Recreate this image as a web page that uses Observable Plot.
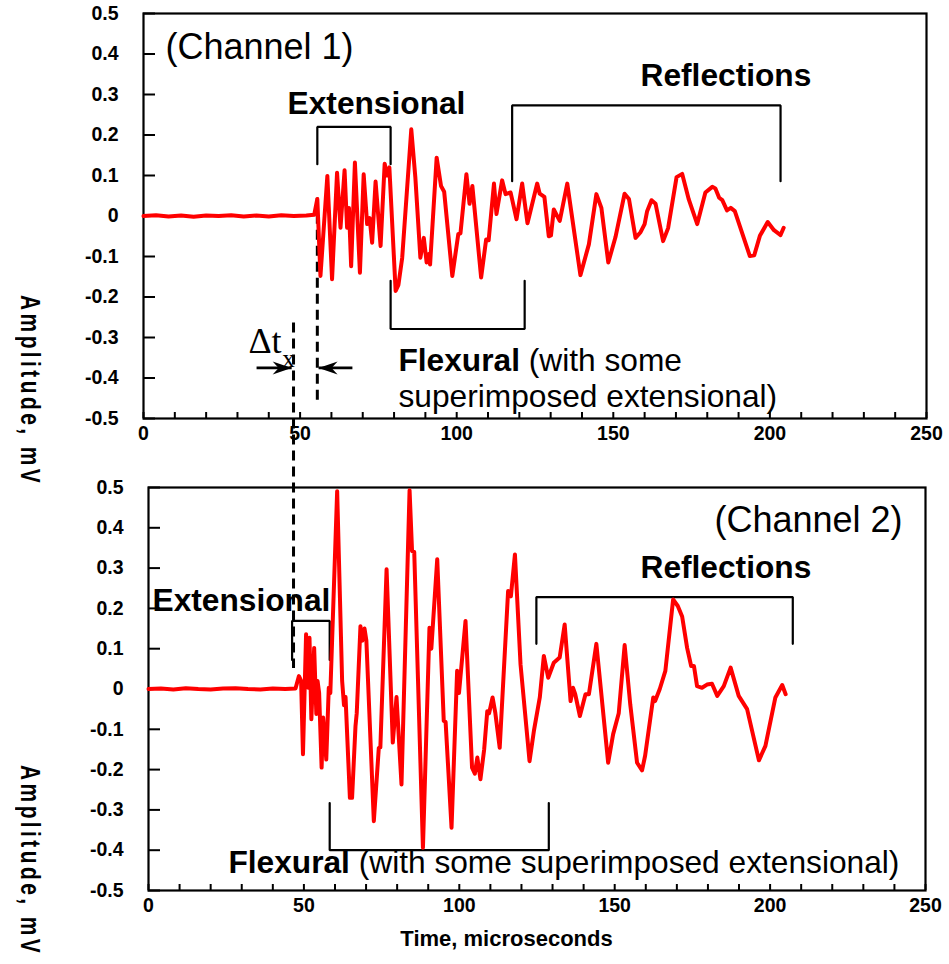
<!DOCTYPE html>
<html>
<head>
<meta charset="utf-8">
<script src="https://cdn.jsdelivr.net/npm/d3@7"></script>
<script src="https://cdn.jsdelivr.net/npm/@observablehq/plot@0.6"></script>
<style>
  html, body { margin: 0; padding: 0; background: #fff; }
  #chart { position: relative; width: 949px; height: 964px; overflow: hidden;
           font-family: Arial, "Liberation Sans", sans-serif; }
  #chart svg { position: absolute; left: 0; overflow: visible; }
  .ytitle { position: absolute; writing-mode: vertical-rl; font-weight: bold; font-size: 21px;
            line-height: 21px; letter-spacing: 3.4px; white-space: nowrap; color: #000;
            transform: scaleX(1.35); transform-origin: 0 0; }
</style>
</head>
<body>
<div id="chart"></div>
<script>
// ---- axes -------------------------------------------------------------
const xTickValues = [0, 50, 100, 150, 200, 250];
const xTickLabels = ["0", "50", "100", "150", "200", "250"];
const xMinorTicks = [10, 20, 30, 40, 60, 70, 80, 90, 110, 120, 130, 140, 160, 170, 180, 190, 210, 220, 230, 240];
const yTickValues = [-0.5, -0.4, -0.3, -0.2, -0.1, 0, 0.1, 0.2, 0.3, 0.4, 0.5];
const yTickLabels = ["-0.5", "-0.4", "-0.3", "-0.2", "-0.1", "0", "0.1", "0.2", "0.3", "0.4", "0.5"];
const xTitle = "Time, microseconds";
const yTitle = "Amplitude, mV";

// ---- channel 1 trace (time in microseconds, amplitude in mV) ----------
const ch1Time = [0, 4, 8, 12, 16, 20, 24, 28, 32, 36, 40, 44, 48, 52, 54.5,
  55.5, 56.5, 58.7, 60.2, 61.8, 62.9, 64.2, 65, 65.6, 66.3, 67.5, 69.1, 70.3, 71.4, 72.2, 73,
  74.1, 75.7, 77, 77.8, 78.5, 80.5, 81.4, 82.6, 85.5, 86.8, 88.4, 89.5, 90.4, 91.1, 91.5,
  93.6, 95, 96, 98.6, 100.5, 101.2, 103.1, 104.1, 105, 107.8, 109.4, 110.2, 111.9, 112.7,
  114.5, 115.6, 117.2, 117.7, 119.1, 120.9, 122.6, 125.7, 126.5, 128, 129.4, 130.1, 131,
  132.9, 135.3, 139.5, 142.2, 144.6, 146.2, 148.4, 150.7, 153.6, 155, 157.1, 158.7, 160,
  160.8, 162.2, 163.5, 165.9, 167.5, 170.2, 172, 174.1, 176.8, 179.4, 181.6, 182.6, 183.8,
  184.8, 186.3, 187.5, 188.8, 193.6, 195, 196.8, 199.3, 201.3, 203.4, 204.4];
const ch1Amp = [0, 0.002, -0.001, 0.001, -0.002, 0.001, 0, 0.002, -0.001, 0.001, -0.001, 0.002, 0, 0.001, 0.003,
  0.042, -0.148, 0.099, -0.156, 0.107, -0.029, 0.113, -0.029, 0.02, -0.124, 0.132, -0.14, 0.103, -0.02, -0.005, -0.066,
  0.085, -0.074, 0.129, 0.1, 0.12, -0.185, -0.17, -0.103, 0.214, 0.095, -0.103, -0.054, -0.115, -0.094, -0.12,
  0.144, 0.074, 0.06, -0.148, -0.045, -0.043, 0.103, 0.03, 0.074, -0.152, -0.058, -0.06, 0.08, 0.005,
  0.088, 0.054, 0.058, 0.041, -0.008, 0.08, -0.018, 0.08, 0.055, 0.047, -0.05, -0.048, 0.016,
  -0.012, 0.08, -0.146, -0.07, 0.054, 0.02, -0.115, -0.052, 0.055, 0.042, -0.054, -0.04, -0.02,
  0.012, 0.039, 0.03, -0.062, -0.03, 0.096, 0.104, 0.041, -0.02, 0.058, 0.072, 0.068, 0.045,
  0.039, 0.014, 0.02, 0.012, -0.099, -0.097, -0.049, -0.015, -0.035, -0.047, -0.029];

// ---- channel 2 trace ---------------------------------------------------
const ch2Time = [0, 4, 8, 12, 16, 20, 24, 28, 32, 36, 40, 44, 47.3,
  48.4, 49.1, 49.7, 50.7, 51.4, 51.8, 52.4, 53.3, 54, 54.4, 54.9, 55.7, 56.2, 57.2, 58, 58.5,
  60.7, 62.3, 62.9, 63.4, 64.8, 65.5, 66.6, 67, 68.2, 68.8, 69.5, 70.1, 72.5, 74.1, 74.6,
  76.6, 78.6, 79.8, 81.4, 84, 84.8, 85.5, 88.3, 90.4, 91, 92.9, 95, 95.6, 97.5, 99.3, 99.9,
  102, 104.1, 105, 105.8, 106.8, 108, 109, 109.6, 110.7, 111.6, 113, 115.7, 116.6, 117.9,
  119.7, 122.6, 124, 125.9, 127.2, 128.6, 130.4, 132.3, 133.9, 135.8, 136.6, 137.3, 138.8,
  140.6, 141.7, 144.1, 147.9, 149.5, 151.3, 153.2, 155, 157.2, 158.8, 159.8, 162.4, 163,
  164.5, 166.3, 168.8, 170.3, 171.7, 173.3, 174.6, 175.5, 176.5, 178.1, 179.7, 181.3, 183,
  185.1, 187.3, 189.9, 192.6, 196.4, 198.5, 201.7, 203.9, 205];
const ch2Amp = [0, 0.001, -0.001, 0.002, 0, -0.001, 0.001, 0.002, 0, -0.001, 0.001, 0, 0.001,
  0.032, 0.02, -0.162, 0.136, 0.003, 0.127, -0.075, 0.102, -0.062, 0.02, -0.01, -0.195, -0.071, -0.175, 0.003, -0.01,
  0.491, 0.02, -0.04, -0.02, -0.27, -0.27, -0.092, -0.06, 0.156, 0.12, 0.15, 0.12, -0.328, -0.146, -0.145,
  0.297, -0.133, -0.02, -0.237, 0.493, 0.342, 0.34, -0.394, 0.152, 0.1, 0.322, -0.079, -0.082, -0.344, 0.045, -0.01,
  0.169, -0.195, -0.21, -0.17, -0.224, -0.15, -0.055, -0.06, -0.021, -0.06, -0.146, 0.243, 0.23, 0.334,
  0.061, -0.179, -0.104, -0.021, 0.082, 0.028, 0.065, 0.078, 0.16, -0.03, 0.003, -0.013, -0.067,
  -0.013, -0.013, 0.112, -0.183, -0.112, -0.06, 0.109, -0.038, -0.183, -0.202, -0.165, -0.021, -0.03,
  0, 0.045, 0.222, 0.206, 0.18, 0.102, 0.057, 0.057, 0.007, 0.003, 0.011, 0.013, -0.017,
  0.007, 0.053, -0.017, -0.05, -0.177, -0.141, -0.021, 0.01, -0.013];

// ---- annotation brackets: [start, end] in time, [leg tip, bar] in amplitude
const ch1ExtBracketT = [55.5, 78.9],  ch1ExtBracketV = [0.128, 0.22];
const ch1RefBracketT = [117.7, 203.4], ch1RefBracketV = [0.086, 0.273];
const ch1FlxBracketT = [78.9, 121.7], ch1FlxBracketV = [-0.16, -0.279];
const ch2ExtBracketT = [46.2, 58.3],  ch2ExtBracketV = [0.072, 0.169];
const ch2RefBracketT = [124.8, 207.3], ch2RefBracketV = [0.112, 0.228];
const ch2FlxBracketT = [58.3, 128.8], ch2FlxBracketV = [-0.283, -0.4];

// wave-arrival markers (dashed) and the Δt arrows, in channel 1 coordinates
const arrivalCh2T = 47.9, arrivalCh2V = [-0.264, -1.117];
const arrivalCh1T = 55.5, arrivalCh1V = [0.044, -0.469];
const deltaArrowV = -0.375;
const deltaArrows = [
  {from: 36.1, to: 47.3, dir: 90},   // pointing right, onto the channel 2 arrival
  {from: 66.7, to: 55.9, dir: -90}   // pointing left, onto the channel 1 arrival
];

const FONT = 'Arial, "Liberation Sans", sans-serif';
const SERIF = '"Times New Roman", "Liberation Serif", "DejaVu Serif", serif';
const LABEL_SIZE = 31.7;
const TICK_SIZE = 19.5;
const xLabel = new Map(xTickValues.map((d, i) => [d, xTickLabels[i]]));
const yLabel = new Map(yTickValues.map((d, i) => [d, yTickLabels[i]]));

const meas = document.createElement("canvas").getContext("2d");
function textWidth(s, font) { meas.font = font; return meas.measureText(s).width; }

// filled arrowhead with a notched back; tip at the origin, pointing "up"
const arrowHead = {
  draw(context) {
    context.moveTo(0, 0);
    context.lineTo(6.5, 19);
    context.lineTo(0, 13);
    context.lineTo(-6.5, 19);
    context.closePath();
  }
};

function bracket([t0, t1], [tip, bar]) {
  return Plot.line([[t0, tip], [t0, bar], [t1, bar], [t1, tip]],
    {x: d => d[0], y: d => d[1], stroke: "#000", strokeWidth: 2.2, strokeLinejoin: "miter"});
}
function label(text, t, v, o = {}) {
  return Plot.text([{text, t, v}], {x: "t", y: "v", text: "text", fill: "#000",
    fontSize: LABEL_SIZE, textAnchor: "start", ...o});
}
// bold lead word followed by regular text on the same line
function mixedLabel(bold, rest, t, v) {
  const w = textWidth(bold, `bold ${LABEL_SIZE}px ${FONT}`) + textWidth(" ", `${LABEL_SIZE}px ${FONT}`);
  return [label(bold, t, v, {fontWeight: "bold"}), label(rest, t, v, {dx: w})];
}

function panel({height, marginTop, marginBottom, marginLeft, marginRight, time, amp, marks}) {
  const pts = time.map((t, i) => ({t, v: amp[i]}));
  return Plot.plot({
    width: 949, height, marginTop, marginBottom, marginLeft, marginRight,
    x: {domain: [0, 250]},
    y: {domain: [-0.5, 0.5]},
    style: {background: "transparent", overflow: "visible", fontFamily: FONT, color: "#000"},
    marks: [
      // inward tick marks
      Plot.axisY({ticks: yTickValues, tickFormat: () => "", tickSize: -12, strokeWidth: 2, label: null}),
      Plot.axisX({ticks: [...xTickValues, ...xMinorTicks], tickFormat: () => "", tickSize: -6,
        strokeWidth: 2, label: null}),
      // tick labels
      Plot.text(yTickValues, {y: d => d, frameAnchor: "left", dx: -25, textAnchor: "end",
        text: d => yLabel.get(d), fontSize: TICK_SIZE, fontWeight: "bold", fill: "#000"}),
      Plot.text(xTickValues, {x: d => d, frameAnchor: "bottom", dy: 21, text: d => xLabel.get(d),
        fontSize: TICK_SIZE, fontWeight: "bold", fill: "#000"}),
      Plot.frame({stroke: "#000", strokeWidth: 2.2}),
      ...marks,
      Plot.line(pts, {x: "t", y: "v", stroke: "#ff0000", strokeWidth: 4, strokeLinejoin: "round"})
    ]
  });
}

const topPanel = panel({
  height: 470, marginTop: 13, marginBottom: 52, marginLeft: 143, marginRight: 23,
  time: ch1Time, amp: ch1Amp,
  marks: [
    label("(Channel 1)", 7.0, 0.416, {fontSize: 36}),
    label("Extensional", 46.0, 0.277, {fontWeight: "bold"}),
    label("Reflections", 158.7, 0.346, {fontWeight: "bold"}),
    ...mixedLabel("Flexural", "(with some", 81.4, -0.358),
    label("superimposed extensional)", 81.4, -0.447),
    bracket(ch1ExtBracketT, ch1ExtBracketV),
    bracket(ch1RefBracketT, ch1RefBracketV),
    bracket(ch1FlxBracketT, ch1FlxBracketV),
    Plot.ruleX([arrivalCh2T], {x: d => d, y1: arrivalCh2V[0], y2: arrivalCh2V[1],
      stroke: "#000", strokeWidth: 3, strokeDasharray: "10,6"}),
    Plot.ruleX([arrivalCh1T], {x: d => d, y1: arrivalCh1V[0], y2: arrivalCh1V[1],
      stroke: "#000", strokeWidth: 3, strokeDasharray: "10,6"}),
    // Δt arrows: shaft plus filled head
    Plot.link(deltaArrows, {x1: "from", x2: "to", y1: () => deltaArrowV, y2: () => deltaArrowV,
      stroke: "#000", strokeWidth: 2.6, insetEnd: 8}),
    Plot.vector(deltaArrows, {x: "to", y: () => deltaArrowV, rotate: "dir", anchor: "start",
      shape: arrowHead, fill: "#000", stroke: "none"}),
    Plot.text([{s: "Δt", t: 33.5, v: -0.31}], {x: "t", y: "v", text: "s", textAnchor: "start",
      fontFamily: SERIF, fontSize: 36, fill: "#000"}),
    Plot.text([{s: "x", t: 44.3, v: -0.353}], {x: "t", y: "v", text: "s", textAnchor: "start",
      fontFamily: SERIF, fontSize: 25, fill: "#000"})
  ]
});

const bottomPanel = panel({
  height: 494, marginTop: 17, marginBottom: 74, marginLeft: 148, marginRight: 24,
  time: ch2Time, amp: ch2Amp,
  marks: [
    label("(Channel 2)", 242.6, 0.419, {fontSize: 36, textAnchor: "end"}),
    label("Reflections", 158.3, 0.30, {fontWeight: "bold"}),
    label("Extensional", 1.3, 0.218, {fontWeight: "bold"}),
    ...mixedLabel("Flexural", "(with some superimposed extensional)", 25.7, -0.432),
    bracket(ch2ExtBracketT, ch2ExtBracketV),
    bracket(ch2RefBracketT, ch2RefBracketV),
    bracket(ch2FlxBracketT, ch2FlxBracketV),
    Plot.text([xTitle], {x: () => 115.2, frameAnchor: "bottom", dy: 55, text: d => d,
      fontSize: 22, fontWeight: "bold", fill: "#000"})
  ]
});

const chart = document.getElementById("chart");
topPanel.style.top = "0px";
bottomPanel.style.top = "470px";
chart.append(topPanel, bottomPanel);

// rotated amplitude titles, one per panel
for (const topPx of [295, 765]) {
  const t = document.createElement("div");
  t.className = "ytitle";
  Object.assign(t.style, {left: "17px", top: `${topPx}px`});
  t.textContent = yTitle;
  chart.append(t);
}
</script>
</body>
</html>
